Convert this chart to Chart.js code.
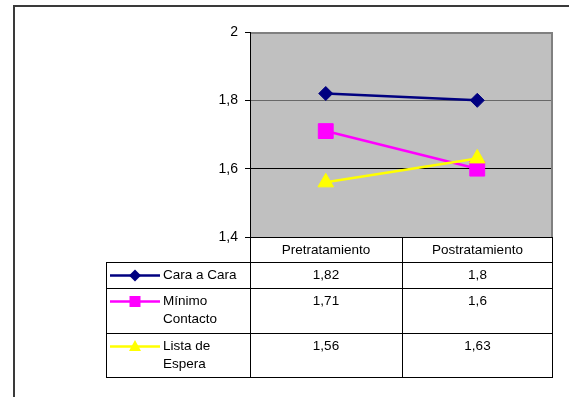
<!DOCTYPE html>
<html>
<head>
<meta charset="utf-8">
<script src="https://cdn.jsdelivr.net/npm/chart.js@4/dist/chart.umd.min.js"></script>
<style>
  html, body { margin: 0; padding: 0; background: #fff; }
  #wrap { width: 569px; height: 397px; }
</style>
</head>
<body>
<div id="wrap"><canvas id="c" width="569" height="397"></canvas></div>
<script>
// Categories and series
const categories = ['Pretratamiento', 'Postratamiento'];
const seriesNames = ['Cara a Cara', 'Mínimo Contacto', 'Lista de Espera'];
const caraACara = [1.82, 1.8];
const minimoContacto = [1.71, 1.6];
const listaDeEspera = [1.56, 1.63];

// Value axis ticks
const yTickValues = [1.4, 1.6, 1.8, 2];
const yTickLabels = ['1,4', '1,6', '1,8', '2'];

const FONT = '"Liberation Sans", Arial, sans-serif';
const fmt = v => String(v).replace('.', ',');

// Plot background, outer frame, plot border and the data table underneath
const frameAndTable = {
  id: 'frameAndTable',
  beforeDraw(chart) {
    const { ctx, chartArea: a } = chart;
    ctx.save();
    ctx.fillStyle = '#fff';
    ctx.fillRect(0, 0, chart.width, chart.height);
    ctx.strokeStyle = '#3a3a3a';
    ctx.lineWidth = 2;
    ctx.strokeRect(14, 6, chart.width + 40, chart.height + 40);
    ctx.fillStyle = '#c0c0c0';
    ctx.fillRect(a.left, a.top, a.right - a.left, a.bottom - a.top);
    ctx.restore();
  },
  beforeDatasetsDraw(chart) {
    const { ctx, chartArea: a } = chart;
    ctx.save();
    ctx.strokeStyle = '#808080';
    ctx.lineWidth = 2;
    ctx.beginPath();
    ctx.moveTo(a.left, a.top + 1);
    ctx.lineTo(a.right - 1, a.top + 1);
    ctx.lineTo(a.right - 1, a.bottom);
    ctx.stroke();
    ctx.strokeStyle = '#000';
    ctx.lineWidth = 1;
    ctx.beginPath();
    ctx.moveTo(a.left + 0.5, a.top);
    ctx.lineTo(a.left + 0.5, a.bottom + 0.5);
    ctx.lineTo(a.right, a.bottom + 0.5);
    ctx.stroke();
    ctx.restore();
  },
  afterDraw(chart) {
    const { ctx, chartArea: a } = chart;
    const xs = chart.scales.x;
    const legendLeft = 106;
    const midX = Math.round((xs.getPixelForValue(0) + xs.getPixelForValue(1)) / 2);
    const cols = [legendLeft, a.left, midX, a.right];
    const lineH = 18.5;
    const textMaxW = a.left - 163 - 2;

    ctx.save();
    ctx.font = '13.5px ' + FONT;
    ctx.fillStyle = '#000';
    ctx.textBaseline = 'middle';

    // wrap series names into the legend cell
    const wrapped = seriesNames.map(name => {
      const words = name.split(' ');
      const lines = [];
      let cur = '';
      words.forEach(w => {
        const t = cur ? cur + ' ' + w : w;
        if (cur && ctx.measureText(t).width > textMaxW) { lines.push(cur); cur = w; }
        else cur = t;
      });
      lines.push(cur);
      return lines;
    });

    const headerTop = a.bottom;
    const headerBottom = headerTop + 25;
    const rowTops = [headerBottom];
    wrapped.forEach(lines => rowTops.push(rowTops[rowTops.length - 1] + 7.5 + lineH * lines.length));
    const tableBottom = rowTops[rowTops.length - 1];

    // grid of the table
    ctx.strokeStyle = '#000';
    ctx.lineWidth = 1;
    ctx.beginPath();
    rowTops.forEach(y => {
      const yy = Math.round(y) + 0.5;
      ctx.moveTo(legendLeft, yy); ctx.lineTo(a.right, yy);
    });
    ctx.moveTo(legendLeft + 0.5, headerBottom); ctx.lineTo(legendLeft + 0.5, Math.round(tableBottom) + 0.5);
    [a.left, midX].forEach(x => {
      ctx.moveTo(x + 0.5, headerTop); ctx.lineTo(x + 0.5, Math.round(tableBottom) + 0.5);
    });
    ctx.moveTo(a.right - 0.5, headerTop); ctx.lineTo(a.right - 0.5, Math.round(tableBottom) + 0.5);
    ctx.stroke();

    // header labels
    ctx.textAlign = 'center';
    categories.forEach((c, i) => {
      ctx.fillText(c, (cols[i + 1] + cols[i + 2]) / 2, (headerTop + headerBottom) / 2 + 0.5);
    });

    // rows: legend key, name, values
    chart.data.datasets.forEach((ds, r) => {
      const top = Math.round(rowTops[r]);
      const y0 = top + 13.5;
      // key line
      ctx.strokeStyle = ds.borderColor;
      ctx.lineWidth = 2.5;
      ctx.beginPath();
      ctx.moveTo(110, y0); ctx.lineTo(160, y0);
      ctx.stroke();
      // key marker
      ctx.fillStyle = ds.backgroundColor;
      ctx.beginPath();
      const cx = 135;
      if (ds.pointStyle === 'rectRot') {
        const s = 6;
        ctx.moveTo(cx - s, y0); ctx.lineTo(cx, y0 - s); ctx.lineTo(cx + s, y0); ctx.lineTo(cx, y0 + s);
      } else if (ds.pointStyle === 'rect') {
        ctx.rect(cx - 5.5, y0 - 5.5, 11, 11);
      } else {
        ctx.moveTo(cx, y0 - 6.5); ctx.lineTo(cx + 6, y0 + 4.5); ctx.lineTo(cx - 6, y0 + 4.5);
      }
      ctx.closePath();
      ctx.fill();
      // name
      ctx.fillStyle = '#000';
      ctx.textAlign = 'left';
      wrapped[r].forEach((ln, k) => ctx.fillText(ln, 163, y0 + k * 18));
      // values
      ctx.textAlign = 'center';
      ds.data.forEach((v, i) => {
        ctx.fillText(fmt(v), (cols[i + 1] + cols[i + 2]) / 2, y0);
      });
    });
    ctx.restore();
  }
};

const ctx = document.getElementById('c').getContext('2d');
new Chart(ctx, {
  type: 'line',
  data: {
    labels: categories,
    datasets: [
      {
        label: seriesNames[0], data: caraACara, order: 3,
        borderColor: '#000080', backgroundColor: '#000080',
        borderWidth: 2.5, pointStyle: 'rectRot', pointRadius: 7, pointBorderWidth: 1
      },
      {
        label: seriesNames[1], data: minimoContacto, order: 2,
        borderColor: '#ff00ff', backgroundColor: '#ff00ff',
        borderWidth: 2.5, pointStyle: 'rect', pointRadius: 10.5, pointBorderWidth: 1
      },
      {
        label: seriesNames[2], data: listaDeEspera, order: 1,
        borderColor: '#ffff00', backgroundColor: '#ffff00',
        borderWidth: 2.5, pointStyle: 'triangle', pointRadius: 9, pointBorderWidth: 1
      }
    ]
  },
  options: {
    responsive: false,
    animation: false,
    devicePixelRatio: 1,
    layout: { padding: { left: 0, top: 32, right: 16, bottom: 160 } },
    plugins: { legend: { display: false }, tooltip: { enabled: false } },
    scales: {
      x: { display: false, offset: true },
      y: {
        min: 1.4, max: 2,
        afterFit(scale) { scale.width = 250; },
        afterBuildTicks(scale) { scale.ticks = yTickValues.map(v => ({ value: v })); },
        border: { display: false },
        grid: {
          drawTicks: true, tickLength: 5, tickColor: '#000', lineWidth: 1,
          color(c) {
            if (!c.tick) return 'rgba(0,0,0,0)';
            if (Math.abs(c.tick.value - 1.8) < 1e-6) return '#686868';
            if (Math.abs(c.tick.value - 1.6) < 1e-6) return '#000';
            return 'rgba(0,0,0,0)';
          }
        },
        ticks: {
          padding: 7, color: '#000',
          font: { family: FONT, size: 14 },
          callback(v) {
            const i = yTickValues.findIndex(t => Math.abs(t - v) < 1e-6);
            return i >= 0 ? yTickLabels[i] : '';
          }
        }
      }
    }
  },
  plugins: [frameAndTable]
});
</script>
</body>
</html>
